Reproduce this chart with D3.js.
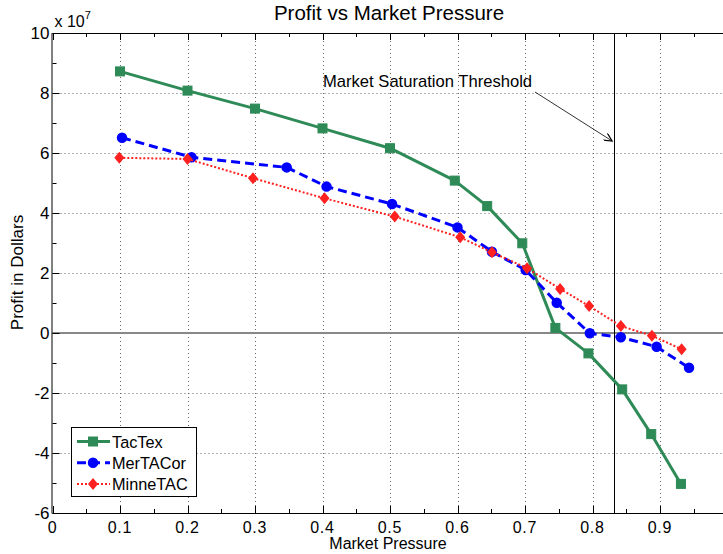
<!DOCTYPE html>
<html><head><meta charset="utf-8">
<script src="https://cdn.jsdelivr.net/npm/d3@7"></script>
<style>body{margin:0;background:#fff;overflow:hidden}svg{display:block;font-family:"Liberation Sans",Arial,sans-serif}</style>
</head><body>
<script>
const tactexX = [0.1,0.2,0.3,0.4,0.5,0.596,0.644,0.696,0.745,0.794,0.844,0.887,0.931];
const tactexY = [8.72,8.08,7.48,6.82,6.16,5.08,4.23,2.99,0.17,-0.68,-1.88,-3.37,-5.03];
const mertacX = [0.103,0.206,0.347,0.406,0.503,0.6,0.651,0.701,0.747,0.796,0.842,0.895,0.943];
const mertacY = [6.51,5.86,5.52,4.88,4.3,3.52,2.71,2.1,1.01,-0.01,-0.14,-0.46,-1.16];
const minneX = [0.099,0.2,0.297,0.403,0.507,0.604,0.651,0.703,0.752,0.795,0.842,0.888,0.932];
const minneY = [5.84,5.8,5.16,4.49,3.88,3.19,2.69,2.16,1.47,0.9,0.23,-0.09,-0.54];
const xTicks = [0,0.1,0.2,0.3,0.4,0.5,0.6,0.7,0.8,0.9];
const yTicks = [10,8,6,4,2,0,-2,-4,-6];
const threshold = 0.832;
const seriesNames = ["TacTex","MerTACor","MinneTAC"];

const W=723,H=554;
const svg=d3.select("body").append("svg").attr("width",W).attr("height",H);
const x=d3.scaleLinear().domain([0,1]).range([52.5,727.5]);
const y=d3.scaleLinear().domain([-6,10]).range([513,33]);
const L=x(0),R=x(1),T=y(10),B=y(-6);
const cx=v=>Math.round(x(v))+0.5, cy=v=>Math.round(y(v))+0.5;

svg.append("rect").attr("width",W).attr("height",H).attr("fill","#fff");

// grid
const g=svg.append("g");
g.selectAll(".gx").data(xTicks.filter(d=>d>0)).join("line")
 .attr("x1",d=>cx(d)).attr("x2",d=>cx(d)).attr("y1",T).attr("y2",B)
 .attr("stroke","#666").attr("stroke-width",1).attr("stroke-dasharray","1,3");
g.selectAll(".gy").data(yTicks.filter(d=>d>-6&&d<10)).join("line")
 .attr("y1",d=>cy(d)).attr("y2",d=>cy(d)).attr("x1",L).attr("x2",W)
 .attr("stroke","#666").attr("stroke-width",1).attr("stroke-dasharray","1,3");

// zero line
svg.append("line").attr("x1",L).attr("x2",W).attr("y1",y(0)).attr("y2",y(0))
 .attr("stroke","#888").attr("stroke-width",2);

// axes
const xMinor=d3.range(0,1.0001,0.05);
const ax=svg.append("g").attr("stroke","#000");
ax.selectAll(".tb").data(xMinor).join("line")
 .attr("x1",d=>cx(d)).attr("x2",d=>cx(d)).attr("y1",B).attr("y2",d=>B-(Math.round(d*100)%10===0?7:4)).attr("stroke-width",1);
ax.selectAll(".tt").data(xMinor).join("line")
 .attr("x1",d=>cx(d)).attr("x2",d=>cx(d)).attr("y1",T).attr("y2",d=>T+(Math.round(d*100)%10===0?7:4)).attr("stroke-width",1);
const yMinor=d3.range(-6,10.001,1);
ax.selectAll(".tl").data(yMinor).join("line")
 .attr("y1",d=>cy(d)).attr("y2",d=>cy(d)).attr("x1",L).attr("x2",d=>L+(d%2===0?7:4)).attr("stroke-width",1);
svg.append("line").attr("x1",L).attr("x2",W).attr("y1",T+0.5).attr("y2",T+0.5).attr("stroke","#000");
svg.append("line").attr("x1",L).attr("x2",W).attr("y1",B+0.5).attr("y2",B+0.5).attr("stroke","#000");
svg.append("line").attr("x1",L-0.5).attr("x2",L-0.5).attr("y1",T).attr("y2",B+0.5).attr("stroke","#000");

svg.selectAll(".xl").data(xTicks).join("text")
 .attr("x",d=>x(d)).attr("y",B+20).attr("text-anchor","middle").attr("font-size",16).attr("letter-spacing",0.8)
 .text(d=>d===0?"0":d3.format(".1f")(d));
svg.selectAll(".yl").data(yTicks).join("text")
 .attr("x",L-3).attr("y",d=>y(d)+6).attr("text-anchor","end").attr("font-size",17)
 .text(d=>d);
const ex=svg.append("text").attr("x",L+2).attr("y",T-6).attr("font-size",16);
ex.append("tspan").text("x 10");
ex.append("tspan").attr("font-size",11).attr("dy",-8).text("7");

svg.append("text").attr("x",389).attr("y",20).attr("text-anchor","middle").attr("font-size",20.5).text("Profit vs Market Pressure");
svg.append("text").attr("x",388).attr("y",549).attr("text-anchor","middle").attr("font-size",16).text("Market Pressure");
svg.append("text").attr("transform","translate(23,272.5) rotate(-90)").attr("text-anchor","middle").attr("font-size",17).text("Profit in Dollars");

// threshold
svg.append("line").attr("x1",cx(threshold)).attr("x2",cx(threshold)).attr("y1",T).attr("y2",B).attr("stroke","#000").attr("stroke-width",1);
svg.append("text").attr("x",323).attr("y",87).attr("font-size",16.6).text("Market Saturation Threshold");
const defs=svg.append("defs");
defs.append("marker").attr("id","arr").attr("viewBox","0 0 10 10").attr("refX",10).attr("refY",5)
 .attr("markerWidth",12).attr("markerHeight",8).attr("markerUnits","userSpaceOnUse").attr("orient","auto")
 .append("path").attr("d","M0,0 L10,5 L0,10").attr("fill","none").attr("stroke","#000").attr("stroke-width",1.5);
svg.append("line").attr("x1",535).attr("y1",92).attr("x2",x(threshold)-2).attr("y2",141)
 .attr("stroke","#000").attr("stroke-width",0.8).attr("marker-end","url(#arr)");

// series
const series=[
 {name:seriesNames[0],xs:tactexX,ys:tactexY,color:"#2e8b57",w:3,dash:null,shape:"square"},
 {name:seriesNames[1],xs:mertacX,ys:mertacY,color:"#0000ff",w:3,dash:"9,5",shape:"circle"},
 {name:seriesNames[2],xs:minneX,ys:minneY,color:"#ff2020",w:2,dash:"2,2",shape:"diamond"}
];
const line=d3.line().x(d=>x(d[0])).y(d=>y(d[1]));
function marker(sel,shape,color,px,py){
  if(shape==="square") sel.append("rect").attr("x",px-4.5).attr("y",py-4.5).attr("width",9).attr("height",9).attr("fill",color).attr("stroke",color);
  else if(shape==="circle") sel.append("circle").attr("cx",px).attr("cy",py).attr("r",4.5).attr("fill",color).attr("stroke",color).attr("stroke-width",1.5);
  else sel.append("path").attr("d",`M${px},${py-6}L${px+5},${py}L${px},${py+6}L${px-5},${py}Z`).attr("fill",color);
}
series.forEach(s=>{
  const pts=s.xs.map((v,i)=>[v,s.ys[i]]);
  svg.append("path").datum(pts).attr("d",line).attr("fill","none").attr("stroke",s.color)
   .attr("stroke-width",s.w).attr("stroke-dasharray",s.dash).attr("stroke-linejoin","round");
  const mg=svg.append("g");
  pts.forEach(p=>marker(mg,s.shape,s.color,x(p[0]),y(p[1])));
});

// legend
const lg=svg.append("g");
lg.append("rect").attr("x",71.5).attr("y",427.5).attr("width",125).attr("height",69).attr("fill","#fff").attr("stroke","#000");
series.forEach((s,i)=>{
  const yy=441.5+i*21.3;
  lg.append("line").attr("x1",77).attr("x2",110).attr("y1",yy).attr("y2",yy).attr("stroke",s.color).attr("stroke-width",s.w).attr("stroke-dasharray",s.dash);
  marker(lg,s.shape,s.color,93,yy);
  lg.append("text").attr("x",112).attr("y",yy+6).attr("font-size",16.3).text(s.name);
});
</script>
</body></html>
